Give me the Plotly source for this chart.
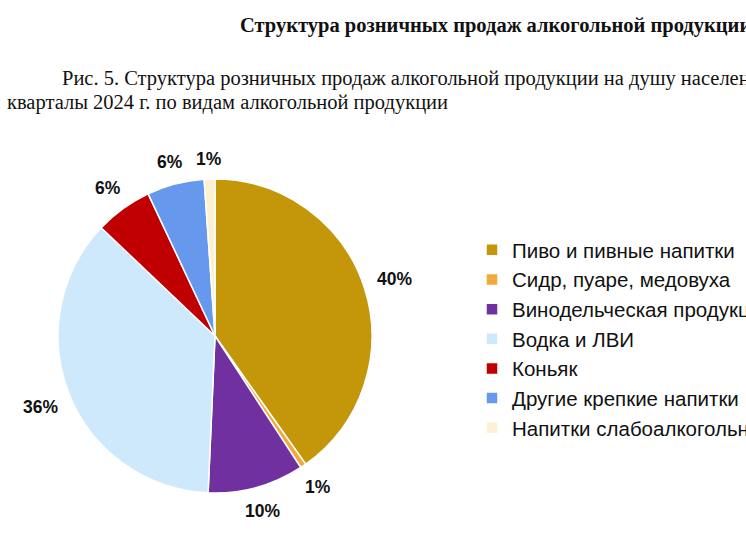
import math
import plotly.graph_objects as go

categories = [
    "Пиво и пивные напитки",
    "Сидр, пуаре, медовуха",
    "Винодельческая продукция",
    "Водка и ЛВИ",
    "Коньяк",
    "Другие крепкие напитки",
    "Напитки слабоалкогольные",
]
shares = [40.2, 0.6, 9.9, 36.4, 5.9, 5.9, 1.1]
colors = ["#C4970A", "#F2A93B", "#7030A0", "#CDE9FB", "#C00000", "#6699EE", "#FBF0D2"]

title_text = "Структура розничных продаж алкогольной продукции"
caption_line1 = "Рис. 5. Структура розничных продаж алкогольной продукции на душу населения"
caption_line2 = "кварталы 2024 г. по видам алкогольной продукции"

W, H = 746, 559
CX, CY, R = 215, 336, 157  # pie centre and radius in pixels

fig = go.Figure(
    go.Pie(
        labels=categories,
        values=shares,
        sort=False,
        direction="clockwise",
        rotation=0,
        marker=dict(colors=colors, line=dict(color="white", width=1.5)),
        textinfo="none",
        domain=dict(x=[(CX - R) / W, (CX + R) / W], y=[1 - (CY + R) / H, 1 - (CY - R) / H]),
        hoverinfo="label+percent",
    )
)

# percentage labels placed just outside each slice, from the data
total = sum(shares)
cum = 0.0
for v in shares:
    mid = (cum + v / 2) / total * 2 * math.pi
    cum += v
    txt = f"{round(v / total * 100)}%"
    hw = 6.0 * len(txt)
    hh = 8.0
    s, c = math.sin(mid), math.cos(mid)
    d = R + 12 + hw * abs(s) + hh * abs(c)
    px, py = CX + d * s, CY - d * c
    fig.add_annotation(
        text=f"<b>{txt}</b>", xref="paper", yref="paper",
        x=px / W, y=1 - py / H, xanchor="center", yanchor="middle", showarrow=False,
        font=dict(family="Liberation Sans, Arial", size=17.5, color="#111111"),
    )

serif = "Liberation Serif, Times New Roman"
fig.add_annotation(
    text="<b>" + title_text + "</b>", xref="paper", yref="paper",
    x=238 / W, y=1 - 26 / H, xanchor="left", yanchor="middle", showarrow=False,
    font=dict(family=serif, size=20.5, color="#111111"),
)
fig.add_annotation(
    text=caption_line1, xref="paper", yref="paper",
    x=60 / W, y=1 - 78 / H, xanchor="left", yanchor="middle", showarrow=False,
    font=dict(family=serif, size=20.5, color="#111111"),
)
fig.add_annotation(
    text=caption_line2, xref="paper", yref="paper",
    x=5 / W, y=1 - 103 / H, xanchor="left", yanchor="middle", showarrow=False,
    font=dict(family=serif, size=20.5, color="#111111"),
)

fig.update_layout(
    width=W, height=H,
    margin=dict(l=0, r=0, t=0, b=0, autoexpand=False),
    paper_bgcolor="white", plot_bgcolor="white",
    showlegend=True,
    legend=dict(
        x=472 / W, y=1 - 230 / H, xanchor="left", yanchor="top",
        font=dict(family="Liberation Sans, Arial", size=20.5, color="#111111"),
        itemwidth=30, tracegroupgap=0, bgcolor="rgba(0,0,0,0)",
    ),
)

fig.write_html("out.html")
